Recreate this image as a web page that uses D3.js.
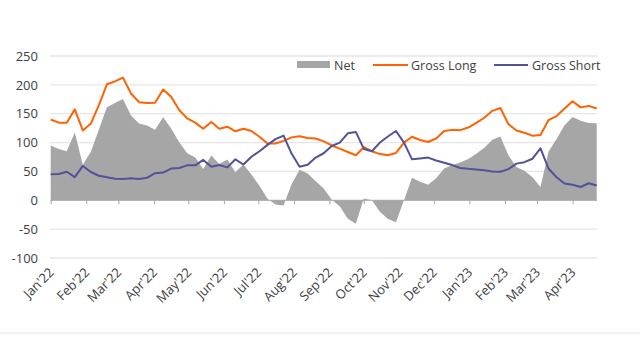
<!DOCTYPE html>
<html>
<head>
<meta charset="utf-8">
<script src="https://cdn.jsdelivr.net/npm/d3@7"></script>
<style>
  html, body { margin: 0; padding: 0; background: #fff; }
  svg { display: block; font-family: "Open Sans", "Noto Sans", sans-serif; }
</style>
</head>
<body>
<svg id="chart" width="640" height="353"></svg>
<script>
// weekly positioning (Tuesdays), Jan'22 - Apr'23
const startDate = new Date(2022, 0, 4);
const endDate   = new Date(2023, 3, 25);

const grossLong = [140, 134.5, 134.5, 157.5, 121, 133, 165, 201, 206, 212.5, 185, 170, 168.5, 169,
  192, 179.5, 156.5, 142, 134.5, 124, 135.5, 124, 127.5, 119.5, 124, 120, 110, 98.5, 98.5, 103,
  109, 111, 108, 107, 102, 95, 89.5, 83.7, 78, 92, 85, 80, 78, 82, 100, 110, 104.5, 101, 107,
  120, 122, 121.5, 126, 134, 143, 155, 160, 132, 121, 117, 112, 113, 139, 146, 159, 171.5, 161, 163.5, 159];

const grossShort = [45, 45.5, 49.5, 40, 59.5, 49, 42.5, 40, 37.5, 37, 38, 37, 39, 47,
  48, 55, 56, 60.5, 60.5, 70, 58, 61, 57, 71, 62, 75.5, 85, 96, 106, 112,
  81, 58, 61.5, 74, 81.5, 94, 100, 116, 118.5, 89, 85, 100, 110.5, 120, 100, 71, 72.5, 74, 69,
  65, 61, 56, 54.5, 53.5, 52, 50, 49.5, 54, 63.5, 66, 72, 90, 55, 40, 29, 27, 23, 29.5, 25.5];

const net = [95, 89, 85, 117.5, 61.5, 84, 122.5, 161, 168.5, 175.5, 147, 133, 129.5, 122,
  144, 124.5, 100.5, 81.5, 74, 54, 77.5, 63, 70.5, 48.5, 62, 44.5, 25, 2.5, -7.5, -9,
  28, 53, 46.5, 33, 20.5, 1, -10.5, -32, -40.5, 3, 0, -20, -32.5, -38, 0, 39, 32, 27, 38,
  55, 61, 65.5, 71.5, 80.5, 91, 105, 110.5, 78, 57.5, 51, 40, 23, 84, 106, 130, 144.5, 138, 134, 133.5];

const yTicks = [-100, -50, 0, 50, 100, 150, 200, 250];
const monthTicks = d3.range(16).map(m => new Date(2022, m, 4));
const seriesNames = ['Net', 'Gross Long', 'Gross Short'];
const colors = { net: '#a6a6a6', long: '#ff6200', short: '#525199' };

const dates = d3.timeTuesday.range(startDate, d3.timeDay.offset(endDate, 1));
const rows = dates.map((d, i) => ({ date: d, long: grossLong[i], short: grossShort[i], net: net[i] }));

const svg = d3.select('#chart');
const x = d3.scaleTime().domain([startDate, endDate]).range([50.7, 596.7]);
const y = d3.scaleLinear().domain([-100, 250]).range([258, 56]);

// gridlines
svg.append('g').selectAll('line').data(yTicks.filter(t => t !== 0)).join('line')
  .attr('x1', 50).attr('x2', 597).attr('y1', d => y(d)).attr('y2', d => y(d))
  .attr('stroke', '#e6e6e6').attr('stroke-width', 1.3);

// y labels
svg.append('g').selectAll('text').data(yTicks).join('text')
  .attr('x', 38).attr('y', d => y(d)).attr('dy', '0.36em').attr('text-anchor', 'end')
  .attr('fill', '#404040').attr('font-size', 13).text(d => d);

// net area
svg.append('path').datum(rows)
  .attr('fill', colors.net)
  .attr('d', d3.area().x(d => x(d.date)).y0(y(0)).y1(d => y(d.net)));

// zero axis with month ticks
const xAxis = svg.append('g').attr('transform', `translate(0,${y(0)})`)
  .call(d3.axisBottom(x).tickValues(monthTicks).tickSize(4).tickFormat(''));
xAxis.select('.domain').attr('stroke', '#a6a6a6').attr('d', `M50,0H597`);
xAxis.selectAll('.tick line').attr('stroke', '#a6a6a6');

svg.append('g').selectAll('text').data(monthTicks).join('text')
  .attr('transform', d => `translate(${x(d) + 4},${y(0) + 73}) rotate(-45)`)
  .attr('text-anchor', 'end').attr('fill', '#404040').attr('font-size', 13)
  .text(d => d3.timeFormat("%b'%y")(d));

// lines
const line = key => d3.line().x(d => x(d.date)).y(d => y(d[key]));
svg.append('path').datum(rows).attr('fill', 'none').attr('stroke', colors.long)
  .attr('stroke-width', 2).attr('stroke-linejoin', 'round').attr('d', line('long'));
svg.append('path').datum(rows).attr('fill', 'none').attr('stroke', colors.short)
  .attr('stroke-width', 2).attr('stroke-linejoin', 'round').attr('d', line('short'));

// legend
const leg = svg.append('g').attr('font-size', 12.5).attr('fill', '#404040');
leg.append('rect').attr('x', 297).attr('y', 61).attr('width', 33).attr('height', 7).attr('fill', colors.net);
leg.append('text').attr('x', 334).attr('y', 65).attr('dy', '0.36em').text(seriesNames[0]);
leg.append('line').attr('x1', 373).attr('x2', 408).attr('y1', 65).attr('y2', 65)
  .attr('stroke', colors.long).attr('stroke-width', 2);
leg.append('text').attr('x', 411).attr('y', 65).attr('dy', '0.36em').text(seriesNames[1]);
leg.append('line').attr('x1', 494).attr('x2', 528).attr('y1', 65).attr('y2', 65)
  .attr('stroke', colors.short).attr('stroke-width', 2);
leg.append('text').attr('x', 532).attr('y', 65).attr('dy', '0.36em').text(seriesNames[2]);

// bottom separator
svg.append('line').attr('x1', 0).attr('x2', 640).attr('y1', 333).attr('y2', 333)
  .attr('stroke', '#eeeeee').attr('stroke-width', 1.5);
</script>
</body>
</html>
